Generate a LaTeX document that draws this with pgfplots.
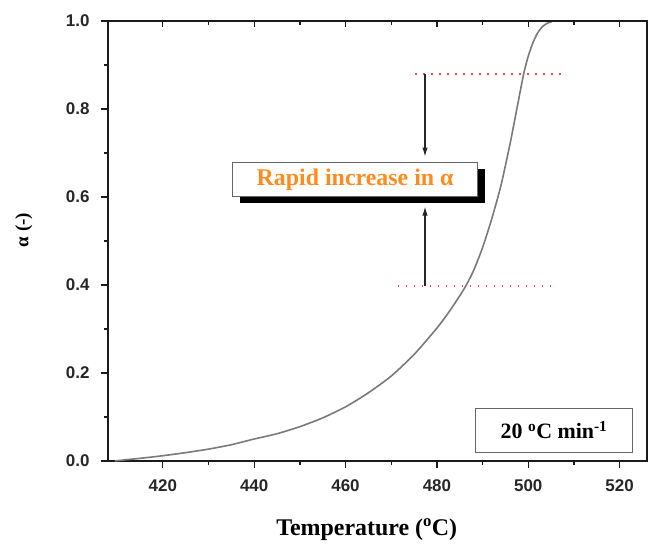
\documentclass[border=0pt]{standalone}
\usepackage{fontspec}
\setmainfont{Liberation Serif}
\newfontfamily\arial{Liberation Sans}
\usepackage{pgfplots}
\pgfplotsset{compat=1.18}
\usetikzlibrary{arrows.meta}
\definecolor{curvegray}{HTML}{7A7A7A}
\definecolor{annorange}{HTML}{FF8A1E}
\definecolor{dotred}{HTML}{F04848}
\definecolor{axisblack}{HTML}{1A1A1A}
\pgfplotstableread{
T a
409.5 0.000
412 0.003
415 0.006
420 0.012
425 0.019
430 0.027
435 0.037
440 0.050
445 0.062
450 0.078
455 0.098
460 0.123
465 0.155
470 0.193
475 0.242
480 0.302
483 0.344
486 0.392
488 0.432
490 0.485
492 0.550
494 0.625
496 0.720
497.5 0.800
499 0.880
500 0.920
501 0.950
502 0.972
503 0.986
504 0.994
505 0.998
506.5 1.000
526 1.000
}\alphadata
\tikzset{tlab/.style={font=\arial\bfseries\fontsize{17}{20}\selectfont, text=black!85}}
\begin{document}
\begin{tikzpicture}
\useasboundingbox (0,0) rectangle (654bp,545bp);
\begin{axis}[name=main,
  at={(108bp,84bp)}, anchor=south west,
  scale only axis, width=539bp, height=440bp,
  xmin=408, xmax=526, ymin=0, ymax=1,
  xtick={420,440,460,480,500,520}, xticklabels={},
  ytick={0,0.2,0.4,0.6,0.8,1.0}, yticklabels={},
  minor x tick num=1, minor y tick num=1,
  tick align=outside, xtick pos=left, ytick pos=left,
  major tick length=7bp, minor tick length=4bp,
  axis line style={axisblack, line width=1.4bp},
  tick style={axisblack, line width=1.3bp},
  xlabel={Temperature (\textsuperscript{o}C)},
  ylabel={α (-)},
  xlabel style={font=\bfseries\fontsize{24}{28}\selectfont, at={(axis description cs:0.48,-0.157)}, anchor=center},
  ylabel style={font=\bfseries\fontsize{19}{22}\selectfont, at={(axis description cs:-0.156,0.525)}, anchor=center},
  clip=false,
]
\addplot[curvegray, line width=1.6bp, smooth, tension=0.4, mark=none] table[x=T, y=a] {\alphadata};
% red dotted guide lines
\addplot[dotred, line width=1.6bp, dash pattern=on 1.6bp off 6.4bp, mark=none] coordinates {(475.2,0.88) (508.1,0.88)};
\addplot[dotred, line width=1.6bp, dash pattern=on 1.6bp off 6.4bp, mark=none] coordinates {(471.4,0.398) (505.5,0.398)};
% arrows
\addplot[black!85, line width=1.1bp, -{Latex[length=9bp,width=5.5bp]}, mark=none] coordinates {(477.4,0.88) (477.4,0.692)};
\addplot[black!85, line width=1.1bp, -{Latex[length=9bp,width=5.5bp]}, mark=none] coordinates {(477.4,0.398) (477.4,0.578)};
% tick labels
\node[tlab, anchor=center] at ([yshift=-25bp]axis cs:420,0) {420};
\node[tlab, anchor=center] at ([yshift=-25bp]axis cs:440,0) {440};
\node[tlab, anchor=center] at ([yshift=-25bp]axis cs:460,0) {460};
\node[tlab, anchor=center] at ([yshift=-25bp]axis cs:480,0) {480};
\node[tlab, anchor=center] at ([yshift=-25bp]axis cs:500,0) {500};
\node[tlab, anchor=center] at ([yshift=-25bp]axis cs:520,0) {520};
\node[tlab, anchor=east] at ([xshift=-15bp]axis cs:408,0) {0.0};
\node[tlab, anchor=east] at ([xshift=-15bp]axis cs:408,0.2) {0.2};
\node[tlab, anchor=east] at ([xshift=-15bp]axis cs:408,0.4) {0.4};
\node[tlab, anchor=east] at ([xshift=-15bp]axis cs:408,0.6) {0.6};
\node[tlab, anchor=east] at ([xshift=-15bp]axis cs:408,0.8) {0.8};
\node[tlab, anchor=east] at ([xshift=-15bp]axis cs:408,1.0) {1.0};
% annotation box with shadow
\node[fill=black, minimum width=245bp, minimum height=34bp, inner sep=0pt] at ([xshift=7bp,yshift=-7bp]axis cs:462.1,0.640) {};
\node[draw=black!60, fill=white, line width=0.8bp, minimum width=245bp, minimum height=34bp, inner sep=0pt,
      font=\bfseries\fontsize{24}{28}\selectfont, text=annorange] at (axis cs:462.1,0.640) {Rapid increase in α};
% legend-like box
\node[draw=black!60, fill=white, line width=0.8bp, minimum width=157bp, minimum height=44bp, inner sep=0pt,
      font=\bfseries\fontsize{22}{26}\selectfont] at (axis cs:505.65,0.07) {20 \textsuperscript{o}C min\textsuperscript{-1}};
\end{axis}
\begin{axis}[
  at={(108bp,84bp)}, anchor=south west,
  scale only axis, width=539bp, height=440bp,
  xmin=408, xmax=526, ymin=0, ymax=1,
  axis x line*=top, axis y line=none,
  xtick={420,440,460,480,500,520}, xticklabels={},
  minor x tick num=1,
  tick align=inside,
  major tick length=6bp, minor tick length=4bp,
  axis line style={axisblack, line width=1.4bp},
  tick style={axisblack, line width=1.3bp},
]
\end{axis}
\end{tikzpicture}
\end{document}
